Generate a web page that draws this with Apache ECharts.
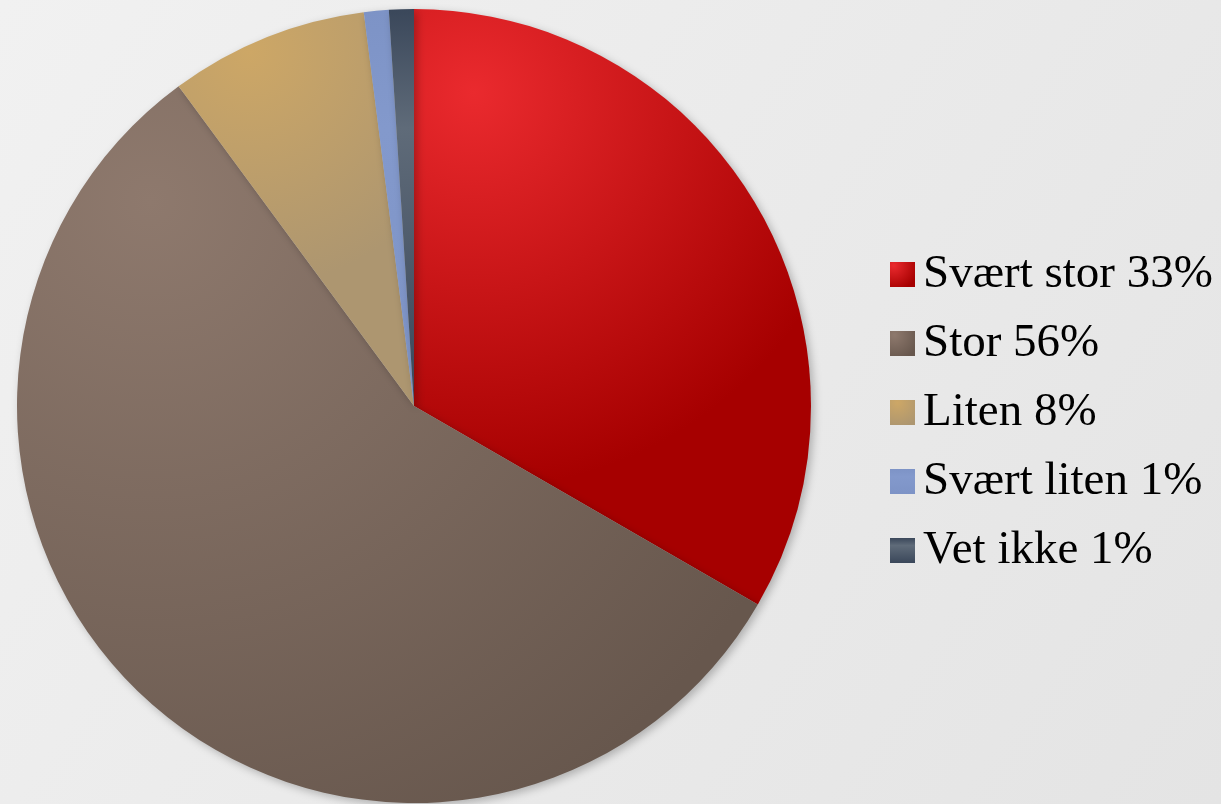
<!DOCTYPE html>
<html>
<head>
<meta charset="utf-8">
<script src="https://cdn.jsdelivr.net/npm/echarts@6/dist/echarts.min.js"></script>
<style>
html,body{margin:0;padding:0;background:#eaeaea;}
#chart{width:1221px;height:804px;}
</style>
</head>
<body>
<div id="chart"></div>
<script>
const categories = ['Svært stor', 'Stor', 'Liten', 'Svært liten', 'Vet ikke'];
const values = [33, 56, 8, 1, 1];
const percentLabels = ['33%', '56%', '8%', '1%', '1%'];

const palette = [
  { hi: '#ea2a2e', lo: '#a60000', x: 0.15, y: 0.14 },
  { hi: '#8e796d', lo: '#67574d', x: 0.18, y: 0.16 },
  { hi: '#cda766', lo: '#ad9670', x: 0.3, y: 0.1 },
  { hi: '#8399cc', lo: '#7d93c6', x: 0.5, y: 0.3 },
  { hi: '#5f6b79', lo: '#3a475a', x: 0.5, y: 0.25 }
];

function grad(p, i) {
  if (i >= 3) {
    return {
      type: 'linear', x: 0, y: 0, x2: 0, y2: 1,
      colorStops: [
        { offset: 0, color: p.lo },
        { offset: 0.3, color: p.hi },
        { offset: 1, color: p.lo }
      ]
    };
  }
  return {
    type: 'radial', x: p.x, y: p.y, r: 1,
    colorStops: [{ offset: 0, color: p.hi }, { offset: 1, color: p.lo }]
  };
}

const labelMap = {};
categories.forEach((c, i) => { labelMap[c] = c + ' ' + percentLabels[i]; });

const chart = echarts.init(document.getElementById('chart'));
chart.setOption({
  backgroundColor: {
    type: 'linear', x: 0, y: 0, x2: 1, y2: 1,
    colorStops: [{ offset: 0, color: '#f1f1f1' }, { offset: 1, color: '#e4e4e4' }]
  },
  animation: false,
  legend: {
    orient: 'vertical',
    left: 885,
    top: 246,
    itemWidth: 25,
    itemHeight: 25,
    itemGap: 22,
    icon: 'rect',
    formatter: name => labelMap[name],
    textStyle: {
      fontFamily: '"Liberation Serif", "DejaVu Serif", serif',
      fontSize: 47,
      lineHeight: 47,
      color: '#000',
      padding: [0, 0, 0, 3]
    }
  },
  series: [{
    type: 'pie',
    center: [414, 406],
    radius: 397,
    startAngle: 90,
    clockwise: true,
    label: { show: false },
    labelLine: { show: false },
    emphasis: { disabled: true },
    itemStyle: {
      borderWidth: 0,
      shadowBlur: 8,
      shadowOffsetX: 3,
      shadowOffsetY: 3,
      shadowColor: 'rgba(0,0,0,0.25)'
    },
    data: categories.map((c, i) => ({
      name: c,
      value: values[i],
      itemStyle: { color: grad(palette[i], i) }
    }))
  }]
});
</script>
</body>
</html>
